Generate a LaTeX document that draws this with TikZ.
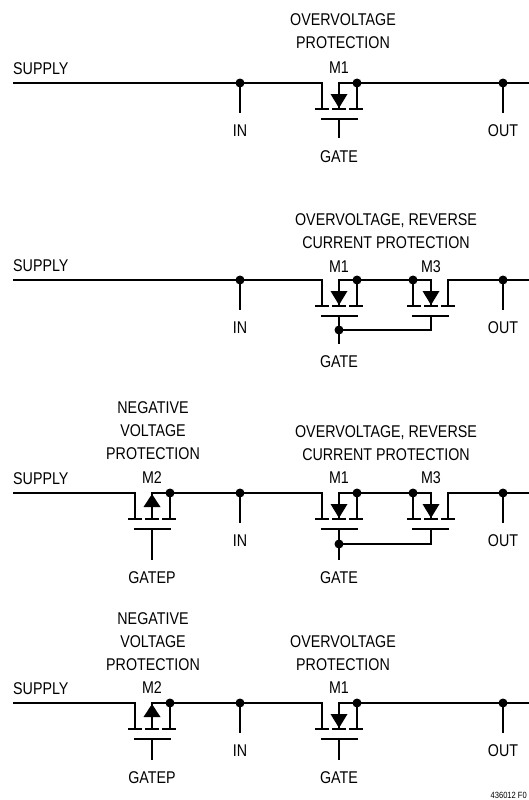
\documentclass[tikz,border=0pt]{standalone}
\usepackage{fontspec}
\setmainfont{Liberation Sans}[FakeStretch=0.84]
\tikzset{
  wire/.style={line width=2.9pt},
  lbl/.style={font=\fontsize{17}{23}\selectfont,inner sep=0pt,align=center},
  pics/fet/.style 2 args={code={
    \draw[wire] (-24,26) -- (-10,26) (-7,26) -- (7,26) (10,26) -- (24,26);
    \draw[wire] (0,26) -- (0,0) -- (18,0) coordinate (-out) -- (18,26);
    \fill (-8.5,#1) -- (8.5,#1) -- (0,#2) -- cycle;
    \draw[wire] (-18,36) -- (19,36);
    \coordinate (-in) at (-17,0);
    \coordinate (-g) at (0,36);
  }}
}
\begin{document}
\begin{tikzpicture}[x=1pt,y=-1pt,line join=miter]
\useasboundingbox (0,0) rectangle (529,800);
% taps and supply labels, one row per circuit
\foreach \y [count=\i] in {83,280,493,703}{
  \coordinate (s\i) at (13,\y);
  \coordinate (e\i) at (529,\y);
  \node[lbl,anchor=west] (supl\i) at (13,\y-14) {SUPPLY};
  \node[lbl] (inl\i) at (240,\y+48) {IN};
  \node[lbl] (outl\i) at (503,\y+48) {OUT};
  \draw[wire] (240,\y) -- ([yshift=12pt]inl\i.north);
  \draw[wire] (503,\y) -- ([yshift=12pt]outl\i.north);
  \fill (240,\y) circle (4.5) (503,\y) circle (4.5);
}
% overvoltage only
\node[lbl,anchor=south] (t1) at (343,49) {OVERVOLTAGE\\PROTECTION};
\node[lbl] (m1al) at (339,68) {M1};
\pic (m1a) at (339,83) {fet={11}{25}};
\draw[wire] (s1) -- (m1a-in) -- ++(0,26);
\draw[wire] (m1a-out) -- (e1);
\fill (m1a-out) circle (4.5);
\node[lbl] (gl1) at (339,157) {GATE};
\draw[wire] (m1a-g) -- ([yshift=13pt]gl1.north);
% overvoltage, reverse current
\node[lbl,anchor=south] (t2) at (386,249) {OVERVOLTAGE, REVERSE\\CURRENT PROTECTION};
\node[lbl] (m1bl) at (339,267) {M1};
\node[lbl] (m3bl) at (431,267) {M3};
\pic (m1b) at (339,280) {fet={11}{25}};
\pic[xscale=-1] (m3b) at (431,280) {fet={11}{25}};
\draw[wire] (s2) -- (m1b-in) -- ++(0,26);
\draw[wire] (m1b-out) -- (m3b-out);
\draw[wire] ([yshift=-26pt]m3b-in) -- (m3b-in) -- (e2);
\fill (m1b-out) circle (4.5) (m3b-out) circle (4.5);
\node[lbl] (gl2) at (339,362) {GATE};
\draw[wire] (m1b-g) -- ([yshift=12pt]gl2.north);
\path (m1b-g) ++(0,14) coordinate (gj2);
\draw[wire] (gj2) -| (m3b-g);
\fill (gj2) circle (4.5);
% negative voltage + overvoltage, reverse current
\node[lbl,anchor=south] (t3a) at (153,460) {NEGATIVE\\VOLTAGE\\PROTECTION};
\node[lbl,anchor=south] (t3b) at (386,461) {OVERVOLTAGE, REVERSE\\CURRENT PROTECTION};
\node[lbl] (m2cl) at (152,478) {M2};
\node[lbl] (m1cl) at (339,478) {M1};
\node[lbl] (m3cl) at (431,478) {M3};
\pic (m2c) at (152,493) {fet={14}{1}};
\pic (m1c) at (339,493) {fet={11}{25}};
\pic[xscale=-1] (m3c) at (431,493) {fet={11}{25}};
\draw[wire] (s3) -- (m2c-in) -- ++(0,26);
\draw[wire] (m2c-out) -- (m1c-in) -- ++(0,26);
\draw[wire] (m1c-out) -- (m3c-out);
\draw[wire] ([yshift=-26pt]m3c-in) -- (m3c-in) -- (e3);
\fill (m2c-out) circle (4.5) (m1c-out) circle (4.5) (m3c-out) circle (4.5);
\node[lbl] (gpl3) at (152,578) {GATEP};
\node[lbl] (gl3) at (339,578) {GATE};
\draw[wire] (m2c-g) -- ([yshift=12pt]gpl3.north);
\draw[wire] (m1c-g) -- ([yshift=12pt]gl3.north);
\path (m1c-g) ++(0,15) coordinate (gj3);
\draw[wire] (gj3) -| (m3c-g);
\fill (gj3) circle (4.5);
% negative voltage + overvoltage
\node[lbl,anchor=south] (t4a) at (153,671) {NEGATIVE\\VOLTAGE\\PROTECTION};
\node[lbl,anchor=south] (t4b) at (343,671) {OVERVOLTAGE\\PROTECTION};
\node[lbl] (m2dl) at (152,688) {M2};
\node[lbl] (m1dl) at (339,688) {M1};
\pic (m2d) at (152,703) {fet={14}{1}};
\pic (m1d) at (339,703) {fet={11}{25}};
\draw[wire] (s4) -- (m2d-in) -- ++(0,26);
\draw[wire] (m2d-out) -- (m1d-in) -- ++(0,26);
\draw[wire] (m1d-out) -- (e4);
\fill (m2d-out) circle (4.5) (m1d-out) circle (4.5);
\node[lbl] (gpl4) at (152,778) {GATEP};
\node[lbl] (gl4) at (339,778) {GATE};
\draw[wire] (m2d-g) -- ([yshift=12pt]gpl4.north);
\draw[wire] (m1d-g) -- ([yshift=12pt]gl4.north);
\node[font=\fontsize{9}{10}\selectfont,inner sep=0pt,anchor=base east] (fig) at (527,798) {436012 F0};
\end{tikzpicture}
\end{document}
